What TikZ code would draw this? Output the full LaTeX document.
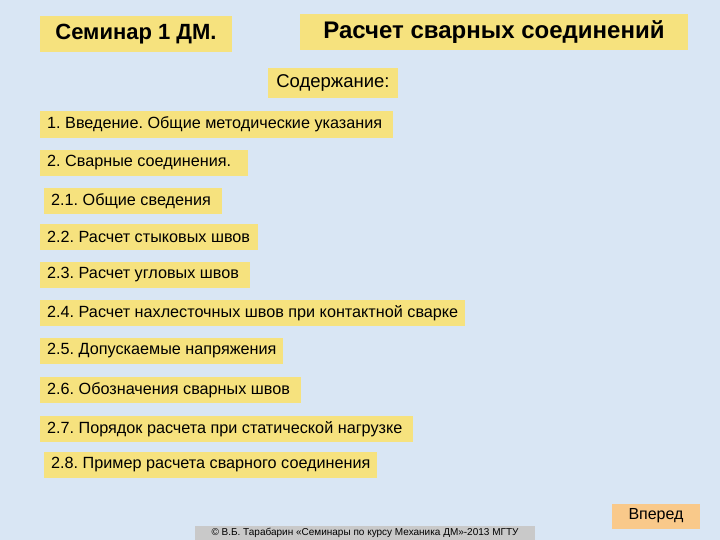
\documentclass[tikz,border=0pt]{standalone}
\usepackage{fontspec}
\setmainfont{Liberation Sans}
\frenchspacing
\definecolor{bg}{HTML}{D9E6F4}
\definecolor{yel}{HTML}{F6E27E}
\definecolor{org}{HTML}{F9C98A}
\definecolor{gry}{HTML}{C9C9C9}
\begin{document}
\begin{tikzpicture}[x=1pt,y=-1pt,
  ttl/.style={fill=yel,inner sep=0pt,font=\fontsize{24}{26}\selectfont\bfseries}]
\fill[bg] (0,0) rectangle (720,540);
\useasboundingbox (0,0) rectangle (720,540);
\node[ttl,minimum width=192,minimum height=36,font=\fontsize{22}{24}\selectfont\bfseries] (s) at (136,34) {Семинар 1 ДМ.};
\node[ttl,minimum width=388,minimum height=36] (r) at (494,32) {Расчет сварных соединений};
\node[fill=yel,inner sep=0pt,minimum width=130,minimum height=30,font=\fontsize{18.5}{20}\selectfont] (c) at (333,83) {Содержание:};
\newcommand\itm[5]{\fill[yel] (#1,#2) rectangle (#3,#4); \node[anchor=west,inner sep=0pt,font=\fontsize{16.2}{18}\selectfont] (n#2) at (#1+7,{(#2+#4)/2}) {#5};}
\itm{40}{111}{393}{138}{1. Введение. Общие методические указания}
\itm{40}{150}{248}{176}{2. Сварные соединения.}
\itm{44}{188}{222}{214}{2.1. Общие сведения}
\itm{40}{224}{258}{250}{2.2. Расчет стыковых швов}
\itm{40}{262}{250}{288}{2.3. Расчет угловых швов}
\itm{40}{300}{465}{326}{2.4. Расчет нахлесточных швов при контактной сварке}
\itm{40}{338}{283}{364}{2.5. Допускаемые напряжения}
\itm{40}{377}{301}{403}{2.6. Обозначения сварных швов}
\itm{40}{416}{413}{442}{2.7. Порядок расчета при статической нагрузке}
\itm{44}{452}{377}{478}{2.8. Пример расчета сварного соединения}
\node[fill=org,minimum width=88,minimum height=25,inner sep=0pt,font=\fontsize{16}{18}\selectfont] (v) at (656,516) {Вперед};
\node[fill=gry,minimum width=340,minimum height=15,inner sep=0pt,font=\fontsize{10}{11}\selectfont] (f) at (365,533) {© В.Б. Тарабарин «Семинары по курсу Механика ДМ»-2013 МГТУ};
\end{tikzpicture}
\end{document}
